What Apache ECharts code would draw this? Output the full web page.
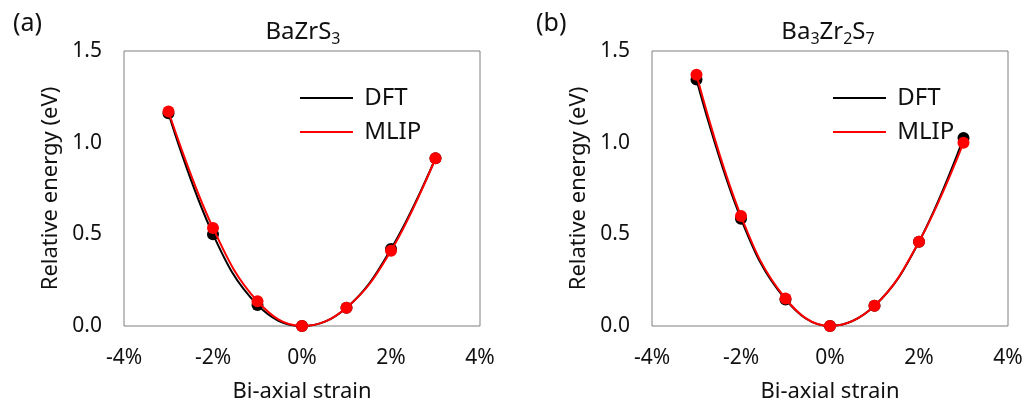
<!DOCTYPE html>
<html><head><meta charset="utf-8">
<script src="https://cdn.jsdelivr.net/npm/echarts@6/dist/echarts.min.js"></script>
<style>html,body{margin:0;padding:0;background:#fff}#c{width:1029px;height:408px}</style>
</head><body><div id="c"></div>
<script>
const strain = [-3, -2, -1, 0, 1, 2, 3];
const dftA  = [1.16, 0.50, 0.115, 0, 0.10, 0.42, 0.915];
const mlipA = [1.17, 0.535, 0.135, 0, 0.10, 0.41, 0.915];
const dftB  = [1.345, 0.585, 0.145, 0, 0.11, 0.46, 1.025];
const mlipB = [1.37, 0.60, 0.15, 0, 0.11, 0.46, 1.00];
const xTicks = [-4, -2, 0, 2, 4];
const yTicks = [0, 0.5, 1.0, 1.5];
const seriesNames = ['DFT', 'MLIP'];

const FONT = '"Noto Sans", "Open Sans", sans-serif';
const pair = (xs, ys) => xs.map((x, i) => [x, ys[i]]);
const chart = echarts.init(document.getElementById('c'), null, {renderer: 'canvas'});

function xAx(gi) {
  return {
    type: 'value', gridIndex: gi, min: xTicks[0], max: xTicks[xTicks.length - 1], interval: 2,
    axisLine: {show: false}, axisTick: {show: false}, splitLine: {show: false},
    axisLabel: {formatter: v => v + '%', color: '#111', fontSize: 21, fontFamily: FONT, margin: 22},
    name: 'Bi-axial strain', nameLocation: 'middle', nameGap: 55,
    nameTextStyle: {color: '#111', fontSize: 22, fontFamily: FONT}
  };
}
function yAx(gi) {
  return {
    type: 'value', gridIndex: gi, min: yTicks[0], max: yTicks[yTicks.length - 1], interval: 0.5,
    axisLine: {show: false}, axisTick: {show: false}, splitLine: {show: false},
    axisLabel: {formatter: v => v.toFixed(1), color: '#111', fontSize: 21, fontFamily: FONT, margin: 22},
    name: 'Relative energy (eV)', nameLocation: 'middle', nameGap: 62,
    nameTextStyle: {color: '#111', fontSize: 22, fontFamily: FONT}
  };
}
function ser(name, gi, data, color, z) {
  return {
    name: name, type: 'line', xAxisIndex: gi, yAxisIndex: gi, data: data,
    smooth: 0.4, symbol: 'circle', symbolSize: 12, showSymbol: true,
    lineStyle: {color: color, width: 2}, itemStyle: {color: color}, z: z,
    emphasis: {disabled: true}, animation: false
  };
}
function leg(left) {
  return {
    data: seriesNames, orient: 'vertical', left: left, top: 78, icon: 'rect',
    itemWidth: 53, itemHeight: 2, itemGap: 4, selectedMode: false,
    formatter: n => ' ' + n,
    textStyle: {fontSize: 24, lineHeight: 30, color: '#111', fontFamily: FONT}
  };
}
const titleRich = {
  n: {fontSize: 24, color: '#111', fontFamily: FONT, fontWeight: 'normal'},
  s: {fontSize: 16, color: '#111', fontFamily: FONT, fontWeight: 'normal', padding: [14, 0, 0, 0]}
};
chart.setOption({
  animation: false,
  textStyle: {fontFamily: FONT},
  title: [
    {text: '(a)', left: 8, top: 6, textStyle: {fontSize: 25, fontWeight: 'normal', color: '#111', fontFamily: FONT}},
    {text: '(b)', left: 531, top: 6, textStyle: {fontSize: 25, fontWeight: 'normal', color: '#111', fontFamily: FONT}},
    {text: '{n|BaZrS}{s|3}', left: 298, top: 12, textAlign: 'center', textStyle: {fontWeight: 'normal', rich: titleRich}},
    {text: '{n|Ba}{s|3}{n|Zr}{s|2}{n|S}{s|7}', left: 823, top: 12, textAlign: 'center', textStyle: {fontWeight: 'normal', rich: titleRich}}
  ],
  legend: [leg(295), leg(828)],
  grid: [
    {left: 124, top: 51, width: 356, height: 277, show: true, borderColor: '#7f7f7f', borderWidth: 1, backgroundColor: 'transparent'},
    {left: 652, top: 51, width: 356, height: 277, show: true, borderColor: '#7f7f7f', borderWidth: 1, backgroundColor: 'transparent'}
  ],
  xAxis: [xAx(0), xAx(1)],
  yAxis: [yAx(0), yAx(1)],
  series: [
    ser('DFT', 0, pair(strain, dftA), '#000000', 2),
    ser('MLIP', 0, pair(strain, mlipA), '#ff0000', 3),
    ser('DFT', 1, pair(strain, dftB), '#000000', 2),
    ser('MLIP', 1, pair(strain, mlipB), '#ff0000', 3)
  ]
});
</script>
</body></html>
